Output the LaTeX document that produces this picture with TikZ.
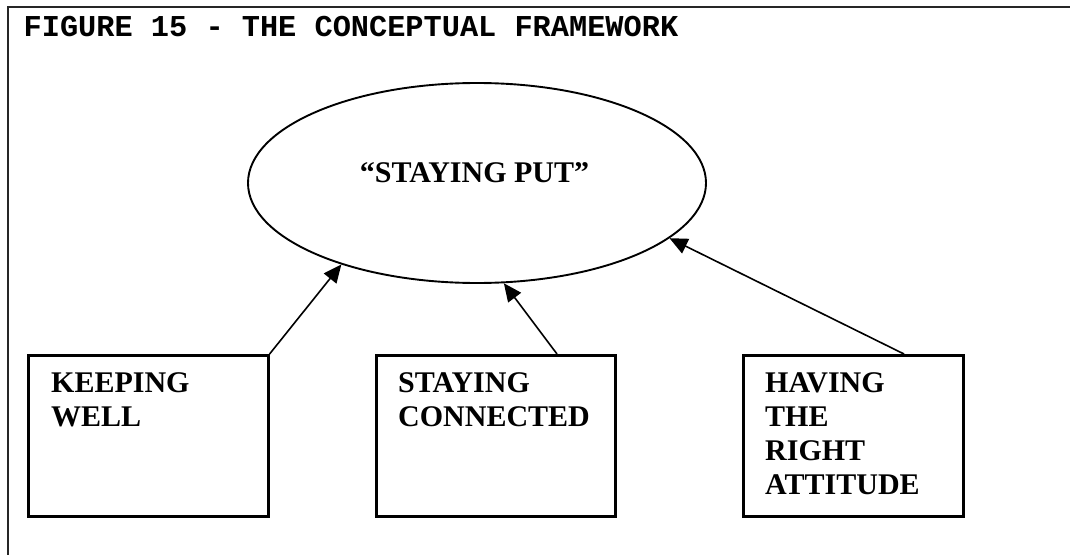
\documentclass[tikz,border=0pt]{standalone}
\usepackage{fontspec}
\setmainfont{Liberation Serif}
\newfontfamily\titlefont{Liberation Mono}
\usetikzlibrary{shapes.geometric,arrows.meta}
\begin{document}
\begin{tikzpicture}[x=1pt,y=-1pt,
  framest/.style={draw=black!85, line width=2pt},
  ovalst/.style={draw, ellipse, line width=1.9pt, minimum width=458pt, minimum height=200pt, inner sep=0pt},
  boxst/.style={draw, rectangle, line width=2.6pt, inner sep=0pt, anchor=north west, minimum height=161pt},
  lbl/.style={anchor=north west, inner sep=0pt, align=left, font=\bfseries\fontsize{30}{34}\selectfont},
  conn/.style={line width=1.6pt, -{Triangle[length=18pt,width=16pt]}},
]
\useasboundingbox (0,0) rectangle (1070,554);
\fill[white] (0,0) rectangle (1070,554);
\draw[framest] (7.5,7) rectangle (1090,580);
\node[anchor=base west, inner sep=0pt, font=\titlefont\bfseries\fontsize{30.3}{32}\selectfont] (title) at (23.5,36) {FIGURE 15 - THE CONCEPTUAL FRAMEWORK};

\node[ovalst] (sp) at (477,183) {};
\node[inner sep=0pt, font=\bfseries\fontsize{30}{34}\selectfont] (spt) at (474.5,173) {“STAYING PUT”};

\node[boxst, minimum width=240pt] (kw) at (27,354) {};
\node[boxst, minimum width=239pt] (sc) at (375,354) {};
\node[boxst, minimum width=220pt] (hr) at (742,354) {};

\node[lbl] (kwt) at (51,372.5) {KEEPING\\WELL};
\node[lbl] (sct) at (398,372.5) {STAYING\\CONNECTED};
\node[lbl] (hrt) at (765,372.5) {HAVING\\THE\\RIGHT\\ATTITUDE};

\draw[conn] (kw.north east) -- (sp.211);
\draw[conn] ([xshift=182pt]sc.north west) -- (sp.285.6);
\draw[conn] ([xshift=162pt]hr.north west) -- (sp.344);
\end{tikzpicture}
\end{document}
